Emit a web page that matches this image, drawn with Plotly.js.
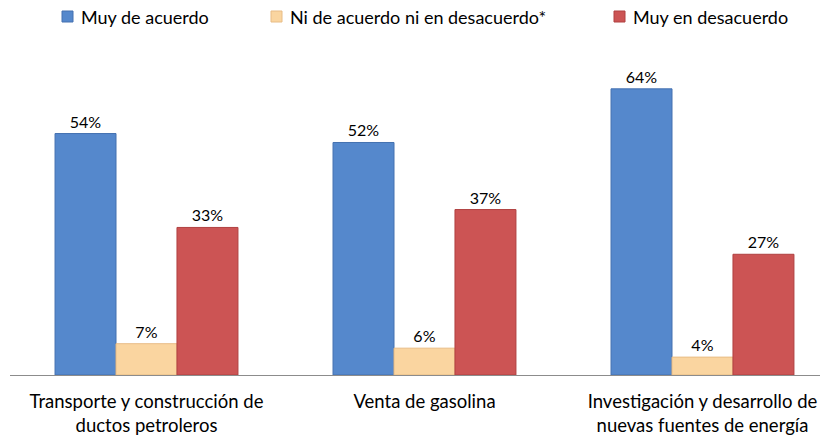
<!DOCTYPE html>
<html><head><meta charset="utf-8">
<script src="https://cdn.plot.ly/plotly-3.0.1.min.js"></script>
<style>body{margin:0}#c{width:830px;height:440px}</style>
</head><body><div id="c"></div>
<script>
const categories = ["Transporte y construcción de<br>ductos petroleros", "Venta de gasolina", "Investigación y desarrollo de<br>nuevas fuentes de energía"];
const seriesNames = ["Muy de acuerdo", "Ni de acuerdo ni en desacuerdo*", "Muy en desacuerdo"];
const muyDeAcuerdo = [54, 52, 64];
const niNi = [7, 6, 4];
const muyEnDesacuerdo = [33, 37, 27];
const colors = ["#5588CC", "#FAD5A0", "#CC5454"];
const lines = ["#4471B0", "#E8BC85", "#B04040"];
const values = [muyDeAcuerdo, niNi, muyEnDesacuerdo];
const FONT = "Lato, 'Liberation Sans', sans-serif";

const traces = values.map((v, i) => ({
  type: "bar", x: categories, y: v, name: seriesNames[i],
  marker: {color: colors[i], line: {color: lines[i], width: 1}},
  text: v.map(d => d + "%"), textposition: "outside", cliponaxis: false,
  textfont: {family: FONT, size: 16, color: "#000"},
  hoverinfo: "none", showlegend: false
}));

// custom legend placement (pixel positions converted to paper coords)
const L = 10, W = 810, T = 62, H = 313;
const px = x => (x - L) / W;
const py = y => 1 - (y - T) / H;
const legendSquareLeft = [62, 271, 614];
const shapes = [], annotations = [];
seriesNames.forEach((n, i) => {
  const x0 = legendSquareLeft[i];
  shapes.push({type: "rect", xref: "paper", yref: "paper",
    x0: px(x0), x1: px(x0 + 11), y0: py(22), y1: py(11),
    fillcolor: colors[i], line: {color: lines[i], width: 1}});
  annotations.push({xref: "paper", yref: "paper", x: px(x0 + 17), y: py(16.5),
    xanchor: "left", yanchor: "middle", showarrow: false, text: n,
    font: {family: FONT, size: 18, color: "#000"}});
});

const layout = {
  width: 830, height: 440,
  margin: {l: L, r: 10, t: T, b: 65},
  paper_bgcolor: "#fff", plot_bgcolor: "#fff",
  barmode: "group", bargap: 0.342, bargroupgap: 0,
  showlegend: false,
  shapes: shapes, annotations: annotations,
  xaxis: {range: [-0.491, 2.4227], showline: true, linecolor: "#8C8C8C", linewidth: 1,
    ticks: "", showgrid: false, zeroline: false, fixedrange: true, ticklabelstandoff: 10,
    tickfont: {family: FONT, size: 18.5, color: "#000"}},
  yaxis: {range: [0, 70], visible: false, showgrid: false, zeroline: false, fixedrange: true},
  font: {family: FONT}
};
Plotly.newPlot("c", traces, layout, {staticPlot: true, displayModeBar: false});
</script></body></html>
